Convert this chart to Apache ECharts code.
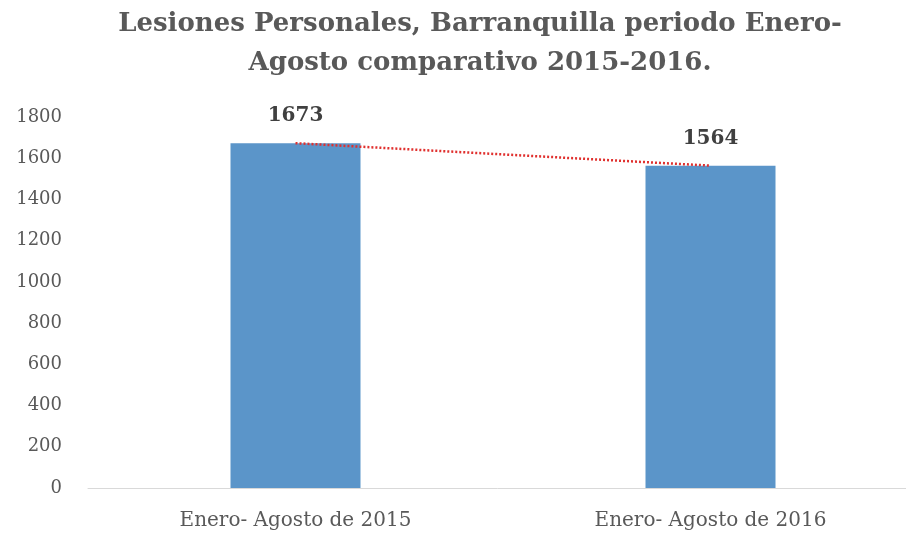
<!DOCTYPE html>
<html>
<head>
<meta charset="utf-8">
<script src="https://cdn.jsdelivr.net/npm/echarts@6/dist/echarts.min.js"></script>
<style>html,body{margin:0;padding:0;background:#fff}#c{width:906px;height:533px}</style>
</head>
<body>
<div id="c"></div>
<script>
const titleLines = ['Lesiones Personales, Barranquilla periodo Enero-', 'Agosto comparativo 2015-2016.'];
const categories = ['Enero- Agosto de 2015', 'Enero- Agosto de 2016'];
const values = [1673, 1564];
const trendValues = [1673, 1564];
const yTicks = { min: 0, max: 1800, interval: 200 };

const chart = echarts.init(document.getElementById('c'), null, { renderer: 'canvas' });
const serif = '"DejaVu Serif", "Liberation Serif", serif';
chart.setOption({
  animation: false,
  backgroundColor: '#ffffff',
  title: {
    text: titleLines.join('\n'),
    left: 475, top: 0, textAlign: 'center',
    textStyle: { fontFamily: serif, fontWeight: 'bold', fontSize: 26, lineHeight: 39, color: '#595959' }
  },
  grid: { left: 88, top: 117, width: 830, height: 371, outerBoundsMode: 'none', containLabel: false },
  xAxis: {
    type: 'category', data: categories,
    axisLine: { show: true, lineStyle: { color: '#d9d9d9', width: 1 } },
    axisTick: { show: false },
    axisLabel: { margin: 23, fontFamily: serif, fontSize: 20, color: '#595959' }
  },
  yAxis: {
    type: 'value', min: yTicks.min, max: yTicks.max, interval: yTicks.interval,
    axisLine: { show: false }, axisTick: { show: false },
    splitLine: { show: false },
    axisLabel: { margin: 26, fontFamily: serif, fontSize: 18, color: '#595959', formatter: v => String(v) }
  },
  series: [
    {
      type: 'bar', data: values, barWidth: 130,
      itemStyle: { color: '#5b95c9' },
      label: { show: true, position: 'top', distance: 17, fontFamily: serif, fontWeight: 'bold', fontSize: 20, color: '#404040' }
    },
    {
      type: 'line', data: trendValues, symbol: 'none', z: 5,
      lineStyle: { color: '#e0302e', width: 2.5, type: [2, 2] }
    }
  ]
});
</script>
</body>
</html>
